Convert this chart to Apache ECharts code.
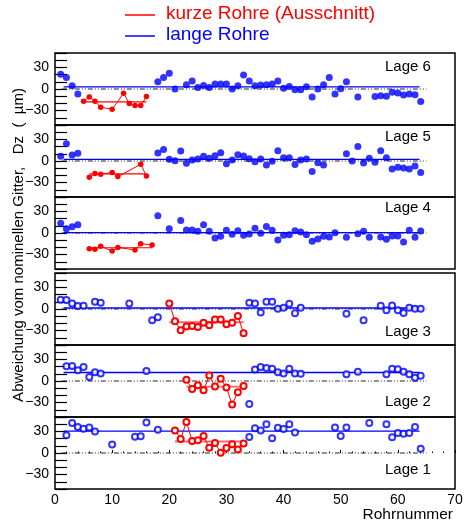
<!DOCTYPE html>
<html>
<head>
<meta charset="utf-8">
<script src="https://cdn.jsdelivr.net/npm/echarts@6/dist/echarts.min.js"></script>
<style>
html,body{margin:0;padding:0;background:#fff;}
#chart{width:471px;height:521px;}
</style>
</head>
<body>
<div id="chart"></div>
<script>
// ---- data (Rohrnummer, Dz in µm) ----
const lageNames = ['Lage 6', 'Lage 5', 'Lage 4', 'Lage 3', 'Lage 2', 'Lage 1'];

const lage6Blue = [[1,20.5],[2,16],[3,4.5],[4,-7],[18,10],[19,16],[20,22],[21,0],[23,6],[24,11],[25,2],[26,5],[27,2],[28,7],[29,7],[30,7],[31,0],[32,4.5],[33,19.5],[34,11],[35,4.5],[36,5.5],[37,6],[38,7],[39,11],[40,1],[41,3.5],[42,-1],[43,-1],[44,3],[45,-11],[46,0],[47,6],[48,16],[49,-7],[50,0.5],[51,10],[53,-11],[56,-10.5],[57,-9.5],[58,-10],[59,-4.5],[60,-5.5],[61,-8.5],[62,-7],[63,-8],[64,-17.5]];
const lage6Red = [[5,-17],[6,-11],[7,-17],[8,-25.5],[10,-28],[12,-6],[13,-20],[14,-23],[15,-23],[16,-10.5]];

const lage5Blue = [[1,6.5],[2,24],[3,8.3],[4,10.6],[18,11],[19,16],[20,2.3],[21,0.5],[22,13.8],[23,-3.2],[24,1.4],[25,2.8],[26,6.5],[27,3.7],[28,7.4],[29,11.5],[30,-3.7],[31,1.4],[32,8.8],[33,6.9],[34,3.2],[35,-0.9],[36,2.8],[37,-5.5],[38,-0.5],[39,14.3],[40,4.6],[41,4.6],[42,-5],[43,1.4],[44,2.8],[45,-14.7],[46,-2.3],[47,-5.5],[51,10.1],[52,0],[53,20.3],[54,-2.8],[55,3.7],[56,-1.8],[57,14.3],[58,4.6],[59,-11],[60,-8.8],[61,-9.7],[62,-11],[63,-6.9],[64,-16.1]];
const lage5Red = [[6,-22.6],[7,-17.5],[8,-18.4],[10,-16.1],[11,-21.7],[15,-4.6],[16,-20.7]];

const lage4Blue = [[1,13.4],[2,6],[3,8.8],[4,11.5],[18,24],[20,6],[22,17.5],[23,4],[24,4],[25,2.3],[26,11.5],[27,2.3],[28,-7],[29,-4.6],[30,3.7],[31,-1.8],[32,3.2],[33,-3.2],[34,-1.4],[35,6.5],[36,-0.5],[37,9.2],[38,3.7],[39,-9.7],[40,-3.2],[41,-2.3],[42,3.2],[43,1.4],[44,-2.3],[45,-11.5],[46,-8.3],[47,-4.6],[48,-5.5],[49,0.5],[51,-6],[53,-1],[54,2.3],[55,-6],[57,-5.5],[58,-8.8],[59,-4.1],[60,-4.1],[61,-12.4],[62,3.7],[63,-6],[64,2.8]];
const lage4Red = [[6,-22],[7,-22.6],[8,-18.4],[10,-25],[11,-20],[14,-23.5],[15,-15],[17,-16.6]];

const lage3Blue = [[1,12.9],[2,12.4],[3,7.8],[4,4.1],[5,4.6],[7,10],[8,8.8],[13,7.8],[17,-15.7],[18,-11.5],[34,8.8],[35,7.8],[36,-5],[37,10],[38,10],[39,0.5],[40,1.8],[41,7.4],[42,-6],[43,1.8],[51,-6.5],[54,-15.7],[57,4.6],[58,-1.8],[59,5],[60,-1.8],[61,-5.5],[62,1.8],[63,0.5],[64,0.5]];
const lage3Red = [[20,7.8],[21,-17],[22,-29.5],[23,-24.4],[24,-23.5],[25,-25],[26,-19],[27,-22.6],[28,-14.7],[29,-14.7],[30,-21.2],[31,-19],[32,-9.7],[33,-33.6]];

const lage2Blue = [[2,20.5],[3,21],[4,15],[5,19.5],[6,5.5],[7,12.3],[8,10.5],[16,14],[34,-31.8],[35,16],[36,19.5],[37,18],[38,17],[39,12.3],[40,10.5],[41,17],[42,10.5],[43,10],[51,9.5],[53,12.7],[58,9.5],[59,17],[60,16.4],[61,12.7],[62,9.5],[63,4.5],[64,7.3]];
const lage2Red = [[23,1.8],[24,-11],[25,-6],[26,-12.7],[27,7.7],[28,-7.7],[29,3.2],[30,-9],[31,-32.7],[32,-15.5],[33,-6.8]];

const lage1Blue = [[2,24.5],[3,41.8],[4,36],[5,33.6],[6,35.5],[7,30],[10,11.8],[14,22.7],[15,23.2],[16,42.3],[18,32.3],[34,22.3],[35,34.5],[36,31.4],[37,40],[38,20.5],[39,35],[40,33.2],[41,40],[42,28.6],[49,35.5],[50,23.6],[51,35.5],[55,41.8],[58,40],[59,21.8],[60,27.7],[61,26.8],[62,27.7],[63,36],[64,5.9]];
const lage1Red = [[21,31.4],[22,19.5],[23,43.2],[24,16.8],[25,17.7],[26,23.6],[27,7.3],[28,14],[29,0.5],[30,6.8],[31,12.3],[32,5],[33,13.2]];

const blueMeans = [3, 2.3, 0.5, 1.4, 11.8, 30.5];
const blueMeanRange = [1.5, 63.8];
const redMeans = [-18, -18, -20.5, -18.4, -7.7, 16];
const redMeanRanges = [[5,16],[6,16],[6,17],[20,33],[23,33],[21,33]];
const zeroRange = [1.2, 65];

const xTicks = [0, 70, 10];     // min, max, interval
const yTicks = [-50, 50, 10];   // min, max, interval
const yLabelValues = [-30, 0, 30];

const blueSets = [lage6Blue, lage5Blue, lage4Blue, lage3Blue, lage2Blue, lage1Blue];
const redSets = [lage6Red, lage5Red, lage4Red, lage3Red, lage2Red, lage1Red];

// ---- layout ----
const panelTops = [53, 125, 197, 273, 345, 417];
const panelH = 72;
const openMarkers = [false, false, false, true, true, true];
const BLUE = '#0000ff', RED = '#ff0000';
const FONT = 'Liberation Sans, Arial, sans-serif';

const grids = [], xAxes = [], yAxes = [], series = [];
panelTops.forEach((top, i) => {
  grids.push({left: 55, right: 16, top: top, height: panelH, show: true,
    borderColor: '#000', borderWidth: 1.5, backgroundColor: 'transparent'});
  const last = i === panelTops.length - 1;
  xAxes.push({type: 'value', gridIndex: i, min: xTicks[0], max: xTicks[1], interval: xTicks[2],
    axisLine: {show: false}, splitLine: {show: false},
    axisTick: {show: last, inside: true, length: 3, lineStyle: {color: '#000'}},
    minorTick: {show: last, splitNumber: 5, length: 1.5, lineStyle: {color: '#000'}},
    axisLabel: {show: last, color: '#000', fontSize: 14, fontFamily: FONT, margin: 4}});
  yAxes.push({type: 'value', gridIndex: i, min: yTicks[0], max: yTicks[1], interval: yTicks[2],
    axisLine: {show: false}, splitLine: {show: false},
    axisTick: {show: true, inside: true, length: 12, lineStyle: {color: '#000', width: 1.2}},
    axisLabel: {color: '#000', fontSize: 14, fontFamily: FONT, margin: 6,
      showMinLabel: true, showMaxLabel: true,
      formatter: v => yLabelValues.includes(v) ? (v < 0 ? '\u2212' + Math.abs(v) : String(v)) : ''}});

  const open = openMarkers[i];
  // zero reference line
  series.push({type: 'line', xAxisIndex: i, yAxisIndex: i, data: [[zeroRange[0], 0], [zeroRange[1], 0]],
    symbol: 'none', silent: true, lineStyle: {color: '#222', width: 1, type: [5, 2, 1, 2, 1, 2]}, z: 1});
  // blue mean
  series.push({type: 'line', xAxisIndex: i, yAxisIndex: i,
    data: [[blueMeanRange[0], blueMeans[i]], [blueMeanRange[1], blueMeans[i]]],
    symbol: 'none', silent: true, lineStyle: {color: BLUE, width: 1.3}, z: 2});
  // red mean
  series.push({type: 'line', xAxisIndex: i, yAxisIndex: i,
    data: [[redMeanRanges[i][0], redMeans[i]], [redMeanRanges[i][1], redMeans[i]]],
    symbol: 'none', silent: true, lineStyle: {color: RED, width: open ? 1.8 : 1.2, opacity: open ? 0.6 : 1}, z: 2});
  // blue points
  series.push({name: 'lange Rohre', type: 'scatter', xAxisIndex: i, yAxisIndex: i, data: blueSets[i],
    symbol: open ? 'emptyCircle' : 'circle', symbolSize: open ? 6 : 7,
    itemStyle: open ? {color: BLUE, borderWidth: 1} : {color: BLUE}, z: 3});
  // red points connected
  series.push({name: 'kurze Rohre (Ausschnitt)', type: 'line', xAxisIndex: i, yAxisIndex: i, data: redSets[i],
    symbol: open ? 'emptyCircle' : 'circle', symbolSize: open ? 6 : 5.5, showSymbol: true,
    lineStyle: {color: RED, width: 1},
    itemStyle: open ? {color: RED, borderWidth: 1} : {color: RED}, z: 4});
});

const graphics = [
  {type: 'line', shape: {x1: 125, y1: 15, x2: 155, y2: 15}, style: {stroke: RED, lineWidth: 1.5}},
  {type: 'text', left: 166, top: 4, style: {text: 'kurze Rohre (Ausschnitt)', fill: RED, font: '19px ' + FONT}},
  {type: 'line', shape: {x1: 125, y1: 36, x2: 155, y2: 36}, style: {stroke: BLUE, lineWidth: 1.5}},
  {type: 'text', left: 166, top: 25, style: {text: 'lange Rohre', fill: BLUE, font: '19px ' + FONT}},
  {type: 'text', x: 19, y: 245, rotation: Math.PI / 2,
    style: {text: 'Abweichung vom nominellen Gitter,   Dz  (  \u00b5m)', fill: '#000', font: '15px ' + FONT,
      textAlign: 'center', textVerticalAlign: 'middle'}},
  {type: 'text', x: 453, y: 515, style: {text: 'Rohrnummer', fill: '#000', font: '15.5px ' + FONT,
      textAlign: 'right', textVerticalAlign: 'middle'}}
];
const lageLabelY = [67, 137, 208, 332, 402, 470];
lageNames.forEach((n, i) => {
  graphics.push({type: 'text', x: 385, y: lageLabelY[i],
    style: {text: n, fill: '#000', font: '15px ' + FONT, textAlign: 'left', textVerticalAlign: 'middle'}});
});

const chart = echarts.init(document.getElementById('chart'), null, {renderer: 'canvas'});
chart.setOption({
  animation: false,
  backgroundColor: '#fff',
  grid: grids, xAxis: xAxes, yAxis: yAxes, series: series, graphic: graphics
});
</script>
</body>
</html>
